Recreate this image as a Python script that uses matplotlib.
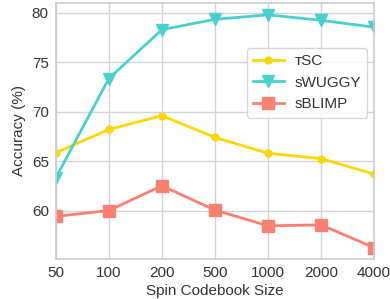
import matplotlib
matplotlib.use("Agg")
import matplotlib.pyplot as plt
import numpy as np

plt.rcParams['font.family'] = ['Liberation Sans', 'DejaVu Sans']

sizes = ["50", "100", "200", "500", "1000", "2000", "4000"]
tsc = [65.85, 68.2, 69.6, 67.4, 65.8, 65.25, 63.7]
swuggy = [63.3, 73.35, 78.3, 79.35, 79.8, 79.25, 78.55]
sblimp = [59.4, 60.0, 62.5, 60.05, 58.45, 58.55, 56.25]

x = np.arange(len(sizes))

fig = plt.figure(figsize=(3.9, 2.99), dpi=100)
ax = fig.add_axes([0.143, 0.134, 0.816, 0.856])

ax.plot(x, tsc, color='#FFD700', marker='o', markersize=5, linewidth=2, label='ᴛSC')
ax.plot(x, swuggy, color='#48D1CC', marker='v', markersize=9, linewidth=2, label='sWUGGY')
ax.plot(x, sblimp, color='#FA8072', marker='s', markersize=8, linewidth=2, label='sBLIMP')

ax.set_xlim(0, 6)
ax.set_ylim(55.1, 81)
ax.set_xticks(x)
ax.set_xticklabels(sizes)
ax.set_yticks([60, 65, 70, 75, 80])
ax.tick_params(length=0, labelsize=11, colors='#333333', pad=5)
ax.grid(True, color='#d3d3d3', linewidth=1)
ax.set_axisbelow(True)
for s in ax.spines.values():
    s.set_color('#cccccc')
    s.set_linewidth(1.2)

ax.set_xlabel('Spin Codebook Size', fontsize=11, color='#333333', labelpad=3)
ax.set_ylabel('Accuracy (%)', fontsize=11, color='#333333', labelpad=4)

leg = ax.legend(loc='upper right', bbox_to_anchor=(0.978, 0.824), fontsize=11,
                frameon=True, borderaxespad=0, handlelength=2.0, handletextpad=0.7)
leg.get_frame().set_edgecolor('#cccccc')
for t in leg.get_texts():
    t.set_color('#333333')

fig.savefig('out.png', dpi=100)
